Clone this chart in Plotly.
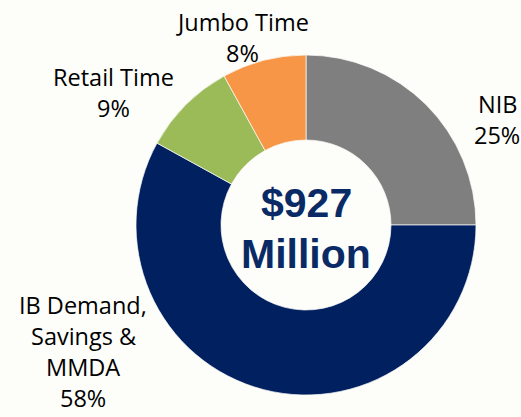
import plotly.graph_objects as go

categories = ["NIB", "IB Demand, Savings & MMDA", "Retail Time", "Jumbo Time"]
values = [25, 58, 9, 8]
colors = ["#7F7F7F", "#002060", "#9BBB59", "#F79646"]
label_lines = [["NIB", "25%"], ["IB Demand,", "Savings &", "MMDA", "58%"],
               ["Retail Time", "9%"], ["Jumbo Time", "8%"]]
center_lines = ["$927", "Million"]

W, H = 521, 417
BG = "#FDFEFA"
cx, cy, R = 306, 225, 170

fig = go.Figure(go.Pie(
    labels=categories, values=values, sort=False, direction="clockwise",
    rotation=0, hole=0.5, textinfo="none", hoverinfo="label+percent",
    marker=dict(colors=colors, line=dict(color=BG, width=0.7)),
    domain=dict(x=[(cx - R) / W, (cx + R) / W],
                y=[(H - cy - R) / H, (H - cy + R) / H]),
    showlegend=False,
))

# label anchor positions (pixel centre of first line) and line step
label_pos = [(497, 104), (83, 305), (113, 77), (242, 22)]
step = 31
ann = []
for lines, (x, y) in zip(label_lines, label_pos):
    for i, t in enumerate(lines):
        ann.append(dict(text=t, x=x / W, y=1 - (y + i * step) / H, xref="paper", yref="paper",
                        showarrow=False, xanchor="center", yanchor="middle",
                        font=dict(family="Open Sans", size=23.5, color="#000000")))
for t, y in zip(center_lines, [203, 254]):
    ann.append(dict(text="<b>" + t + "</b>", x=cx / W, y=1 - y / H, xref="paper", yref="paper",
                    showarrow=False, xanchor="center", yanchor="middle",
                    font=dict(family="Liberation Sans", size=41, color="#0A2A66")))

fig.update_layout(width=W, height=H, margin=dict(l=0, r=0, t=0, b=0),
                  paper_bgcolor=BG, plot_bgcolor=BG, annotations=ann)
fig.write_html("out.html", config={"displayModeBar": False},
               post_script="document.body.style.margin='0';document.body.style.background='%s';" % BG)
